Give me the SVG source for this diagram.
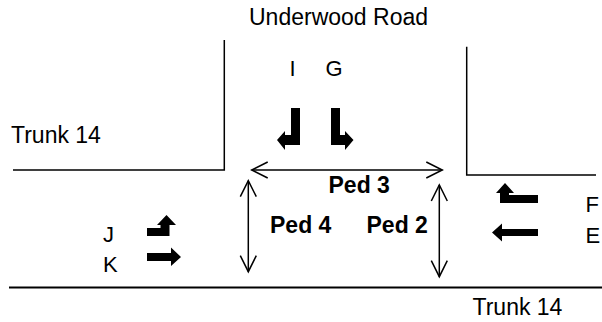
<svg xmlns="http://www.w3.org/2000/svg" width="602" height="322" viewBox="0 0 602 322">
<style>
.t{font-family:"Liberation Sans",Arial,sans-serif;font-size:23px;fill:#000}
.s{font-size:22px}
.b{font-weight:bold}
.road{fill:none;stroke:#000;stroke-width:1.5}
.ped{fill:none;stroke:#000;stroke-width:1.5}
.mv{fill:#000;stroke:none}
</style>
<defs>
<marker id="open" markerUnits="userSpaceOnUse" markerWidth="40" markerHeight="40" viewBox="-20 -20 40 40" refX="0" refY="0" orient="auto-start-reverse">
<path d="M-16,-8 L0,0 L-16,8" fill="none" stroke="#000" stroke-width="1.5"/>
</marker>
</defs>
<rect width="602" height="322" fill="#fff"/>
<g id="roads">
<polyline class="road" points="13,170 224.3,170 224.3,40"/>
<polyline class="road" points="466.7,46.7 466.7,175 596,175"/>
<line x1="9" y1="287.5" x2="602" y2="287.5" stroke="#000" stroke-width="2"/>
</g>
<g id="labels">
<text class="t" x="249" y="25">Underwood Road</text>
<text class="t" x="11" y="143.3">Trunk 14</text>
<text class="t" x="472.5" y="315">Trunk 14</text>
</g>
<g id="move-I"><text class="t s" x="289.5" y="75.7">I</text><polygon class="mv" points="291,108 300,108 300,145 285,145 285,150 277,140 285,131 285,135 291,135"/></g>
<g id="move-G"><text class="t s" x="325.5" y="75.7">G</text><polygon class="mv" points="331,108 340,108 340,135 345,135 345,131 353.5,140 345,150 345,145 331,145"/></g>
<g id="move-J"><text class="t s" x="103" y="241.7">J</text><polygon class="mv" points="147,228 160.5,228 160.5,225 157,225 166.5,215 176,225 169.5,225 169.5,236 147,236"/></g>
<g id="move-K"><text class="t s" x="103" y="271.7">K</text><polygon class="mv" points="147,253 171,253 171,247.5 181,257 171,266 171,261 147,261"/></g>
<g id="move-F"><text class="t s" x="585.5" y="211.7">F</text><polygon class="mv" points="538,195 509,195 509,193 514,193 505,183 496,193 500,193 500,203 538,203"/></g>
<g id="move-E"><text class="t s" x="585.5" y="243.3">E</text><polygon class="mv" points="538,229 502,229 502,223.5 492,232.5 502,241.5 502,236 538,236"/></g>
<g id="connectors">
<line class="ped" x1="251.7" y1="170" x2="442.3" y2="170" marker-start="url(#open)" marker-end="url(#open)"/>
<line class="ped" x1="248.3" y1="180.7" x2="248.3" y2="271.7" marker-start="url(#open)" marker-end="url(#open)"/>
<line class="ped" x1="439.3" y1="185" x2="439.3" y2="276.7" marker-start="url(#open)" marker-end="url(#open)"/>
</g>
<g id="ped-labels">
<text class="t b" x="328.5" y="193.3">Ped 3</text>
<text class="t b" x="270" y="232.7">Ped 4</text>
<text class="t b" x="366.5" y="232.7">Ped 2</text>
</g>
</svg>
